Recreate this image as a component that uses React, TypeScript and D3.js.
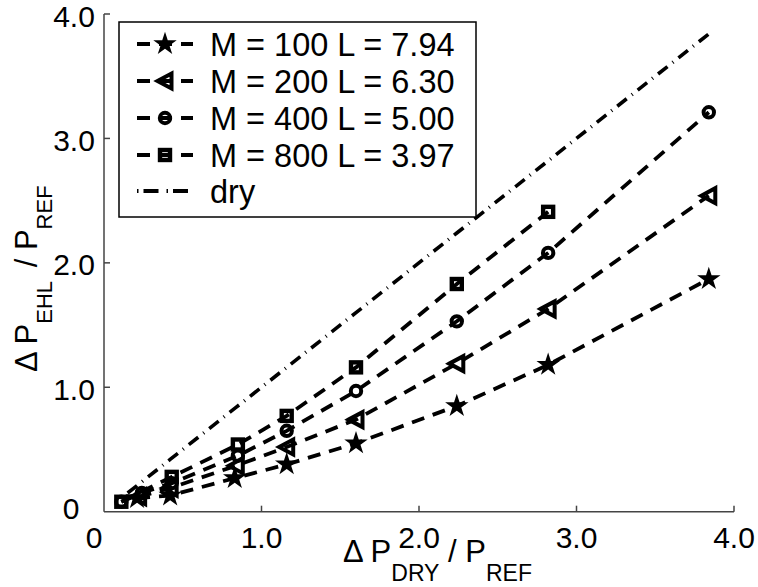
import React from "react";
import * as d3 from "d3";

const W = 758;
const H = 587;

// Tick values and labels
const xTicks = [0, 1, 2, 3, 4];
const xTickLabels = ["0", "1.0", "2.0", "3.0", "4.0"];
const yTicks = [0, 1, 2, 3, 4];
const yTickLabels = ["0", "1.0", "2.0", "3.0", "4.0"];

// Series: M = 100 L = 7.94 (stars)
const m100X = [0.21, 0.42, 0.83, 1.16, 1.6, 2.24, 2.82, 3.84];
const m100Y = [0.11, 0.13, 0.27, 0.38, 0.55, 0.85, 1.18, 1.87];
// Series: M = 200 L = 6.30 (left triangles)
const m200X = [0.22, 0.42, 0.84, 1.16, 1.6, 2.24, 2.82, 3.84];
const m200Y = [0.12, 0.19, 0.37, 0.52, 0.74, 1.19, 1.63, 2.54];
// Series: M = 400 L = 5.00 (circles)
const m400X = [0.11, 0.24, 0.43, 0.85, 1.16, 1.6, 2.24, 2.82, 3.84];
const m400Y = [0.08, 0.15, 0.23, 0.45, 0.65, 0.97, 1.53, 2.08, 3.21];
// Series: M = 800 L = 3.97 (squares)
const m800X = [0.11, 0.43, 0.85, 1.16, 1.6, 2.24, 2.82];
const m800Y = [0.08, 0.28, 0.54, 0.77, 1.16, 1.83, 2.41];
// dry reference line
const dryX = [0.15, 0.42, 0.84, 1.16, 1.6, 2.24, 2.82, 3.84];
const dryY = [0.15, 0.42, 0.84, 1.16, 1.6, 2.24, 2.82, 3.84];

const legendLabels = [
  "M = 100 L = 7.94",
  "M = 200 L = 6.30",
  "M = 400 L = 5.00",
  "M = 800 L = 3.97",
  "dry",
];

const FONT = "'Liberation Sans', Arial, Helvetica, sans-serif";

const x = d3.scaleLinear().domain([0, 4]).range([104, 734]);
const y = d3.scaleLinear().domain([0, 4]).range([511.7, 14]);

const line = d3
  .line<[number, number]>()
  .x((d) => x(d[0]))
  .y((d) => y(d[1]));

const zip = (a: number[], b: number[]) => a.map((v, i) => [v, b[i]] as [number, number]);

const starPath = d3.symbol().type(d3.symbolStar).size(170)() as string;

type MarkerKind = "star" | "tri" | "circle" | "square";

function Marker({ kind, cx, cy }: { kind: MarkerKind; cx: number; cy: number }) {
  if (kind === "star") {
    return <path d={starPath} transform={`translate(${cx},${cy})`} fill="#000" />;
  }
  if (kind === "tri") {
    return (
      <path
        d="M-7.5,0L6.5,-7.5L6.5,7.5Z"
        transform={`translate(${cx},${cy})`}
        fill="none"
        stroke="#000"
        strokeWidth={4}
        strokeLinejoin="miter"
      />
    );
  }
  if (kind === "circle") {
    return <circle cx={cx} cy={cy} r={5.2} fill="none" stroke="#000" strokeWidth={4} />;
  }
  return (
    <rect x={cx - 5} y={cy - 5} width={10} height={10} fill="none" stroke="#000" strokeWidth={4.4} />
  );
}

const series: { xs: number[]; ys: number[]; kind: MarkerKind }[] = [
  { xs: m100X, ys: m100Y, kind: "star" },
  { xs: m200X, ys: m200Y, kind: "tri" },
  { xs: m400X, ys: m400Y, kind: "circle" },
  { xs: m800X, ys: m800Y, kind: "square" },
];

const DASH = "13,9";
const DASHDOT = "12,6.5,1,6.5";

export default function App() {
  const legendRows = [44, 81, 118, 155, 191];
  return (
    <div style={{ position: "absolute", left: 0, top: 0 }}>
      <svg width={W} height={H} style={{ display: "block", background: "#fff" }} fontFamily={FONT}>
        <rect x={0} y={0} width={W} height={H} fill="#fff" />

        {/* dry line */}
        <path
          d={line(zip(dryX, dryY)) as string}
          fill="none"
          stroke="#000"
          strokeWidth={3.6}
          strokeDasharray={DASHDOT}
        />

        {/* series lines */}
        {series.map((s, i) => (
          <path
            key={`l${i}`}
            d={line(zip(s.xs, s.ys)) as string}
            fill="none"
            stroke="#000"
            strokeWidth={3.8}
            strokeDasharray={DASH}
          />
        ))}

        {/* markers */}
        {series.map((s, i) =>
          s.xs.map((v, j) => <Marker key={`m${i}-${j}`} kind={s.kind} cx={x(v)} cy={y(s.ys[j])} />)
        )}

        {/* axes */}
        <line x1={x(0)} x2={x(0)} y1={y(0)} y2={y(4)} stroke="#444" strokeWidth={1.5} />
        <line x1={x(0)} x2={x(4)} y1={y(0)} y2={y(0)} stroke="#444" strokeWidth={1.5} />
        {xTicks.map((t, i) => (
          <g key={`xt${i}`}>
            {i > 0 && <line x1={x(t)} x2={x(t)} y1={y(0)} y2={y(0) - 6} stroke="#444" strokeWidth={1.5} />}
            <text
              x={x(t) + (t === 0 ? -10 : 0)}
              y={548}
              textAnchor="middle"
              fontSize={30}
              fill="#000"
            >
              {xTickLabels[i]}
            </text>
          </g>
        ))}
        {yTicks.map((t, i) => (
          <g key={`yt${i}`}>
            {i > 0 && <line x1={x(0)} x2={x(0) + 6} y1={y(t)} y2={y(t)} stroke="#444" strokeWidth={1.5} />}
            <text
              x={t === 0 ? 71 : 74}
              y={y(t) + (t === 0 ? 7 : 12.5)}
              textAnchor="middle"
              fontSize={30}
              fill="#000"
            >
              {yTickLabels[i]}
            </text>
          </g>
        ))}

        {/* x axis label */}
        <text x={343} y={562} fontSize={31} fill="#000">
          <tspan>Δ P</tspan>
          <tspan fontSize={23} dy={19}>DRY</tspan>
          <tspan dy={-19}> / P</tspan>
          <tspan fontSize={23} dy={19}>REF</tspan>
        </text>

        {/* y axis label */}
        <text transform="translate(37,372) rotate(-90)" fontSize={31} fill="#000">
          <tspan>Δ P</tspan>
          <tspan fontSize={22} dy={15}>EHL</tspan>
          <tspan dy={-15} dx={5}> / P</tspan>
          <tspan fontSize={22} dy={15}>REF</tspan>
        </text>

        {/* legend */}
        <rect x={119} y={22} width={357} height={195} fill="#fff" stroke="#000" strokeWidth={1.5} />
        {legendLabels.map((lab, i) => {
          const ry = legendRows[i];
          const isDry = i === 4;
          return (
            <g key={`lg${i}`}>
              <line
                x1={137}
                x2={193}
                y1={ry}
                y2={ry}
                stroke="#000"
                strokeWidth={3.8}
                strokeDasharray={isDry ? "1.5,5,15,8" : DASH}
              />
              {!isDry && <Marker kind={series[i].kind} cx={165} cy={ry} />}
              <text x={210} y={ry + 11.5} fontSize={32.5} fill="#000">
                {lab}
              </text>
            </g>
          );
        })}
      </svg>
    </div>
  );
}
